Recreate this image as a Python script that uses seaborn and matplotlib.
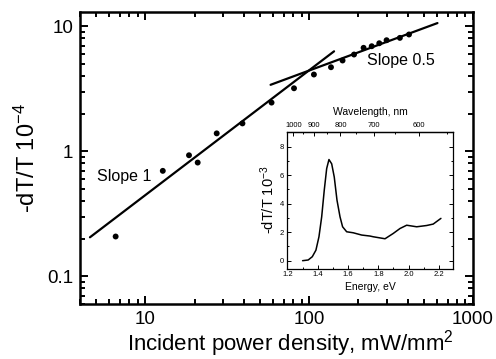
import matplotlib
matplotlib.use("Agg")
import matplotlib.pyplot as plt
import numpy as np
import pandas as pd
import seaborn as sns
from matplotlib.ticker import FixedLocator, MultipleLocator, NullFormatter

# ── main panel: power dependence ───────────────────────────────────────────
power = [6.6, 12.8, 18.5, 20.9, 27.3, 39.2, 59.0, 80.9, 107, 136, 160, 188,
         215, 241, 268, 297, 358, 407]
signal = [0.208, 0.697, 0.929, 0.812, 1.39, 1.67, 2.45, 3.19, 4.11, 4.70, 5.32,
          5.94, 6.72, 6.92, 7.31, 7.73, 8.07, 8.59]

slope1_x = [4.6, 142]
slope1_y = [0.205, 6.3]
slope05_x = [58.2, 607]
slope05_y = [3.40, 10.6]

# ── inset: spectrum ────────────────────────────────────────────────────────
energy = [1.300, 1.337, 1.364, 1.388, 1.408, 1.426, 1.443, 1.459, 1.474, 1.492,
          1.509, 1.527, 1.547, 1.564, 1.591, 1.634, 1.690, 1.745, 1.766, 1.844,
          1.898, 1.943, 1.987, 2.053, 2.119, 2.162, 2.213]
spectrum = [0.0, 0.05, 0.28, 0.74, 1.68, 3.08, 4.95, 6.47, 7.1, 6.8,
            5.87, 4.25, 3.08, 2.38, 2.03, 1.96, 1.8, 1.73, 1.68, 1.54,
            1.91, 2.26, 2.49, 2.38, 2.47, 2.57, 2.97]
wavelength_ticks = [1000, 900, 800, 700, 600]

sns.set_theme(style="ticks")
plt.rcParams["font.family"] = ["Liberation Sans", "DejaVu Sans"]
plt.rcParams["mathtext.default"] = "regular"
plt.rcParams["axes.linewidth"] = 1.8
for key in ("axes.edgecolor", "xtick.color", "ytick.color", "text.color",
            "axes.labelcolor"):
    plt.rcParams[key] = "black"

fig = plt.figure(figsize=(4.96, 3.59), dpi=100)
ax = fig.add_axes([0.1613, 0.1532, 0.7923, 0.8134])

df = pd.DataFrame({"power": power, "signal": signal})
sns.scatterplot(data=df, x="power", y="signal", color="black", s=18,
                edgecolor="none", ax=ax, zorder=3)
sns.lineplot(x=slope1_x, y=slope1_y, color="black", lw=1.6, ax=ax)
sns.lineplot(x=slope05_x, y=slope05_y, color="black", lw=1.6, ax=ax)

ax.set_xscale("log")
ax.set_yscale("log")
ax.set_xlim(4, 1000)
ax.set_ylim(0.06, 13)
ax.xaxis.set_major_locator(FixedLocator([10, 100, 1000]))
ax.set_xticklabels(["10", "100", "1000"])
ax.yaxis.set_major_locator(FixedLocator([0.1, 1, 10]))
ax.set_yticklabels(["0.1", "1", "10"])
ax.xaxis.set_minor_formatter(NullFormatter())
ax.yaxis.set_minor_formatter(NullFormatter())
ax.tick_params(which="both", direction="in", top=True, right=True, width=1.4,
               labelsize=13.5, pad=5)
ax.tick_params(which="major", length=6)
ax.tick_params(which="minor", length=3.5)
ax.set_xlabel("Incident power density, mW/mm$^{2}$", fontsize=16)
ax.xaxis.set_label_coords(0.535, -0.082)
ax.set_ylabel("-dT/T 10$^{-4}$", fontsize=17, labelpad=5)

ax.text(5.1, 0.63, "Slope 1", fontsize=11.5, va="center", ha="left")
ax.text(226, 5.3, "Slope 0.5", fontsize=11.5, va="center", ha="left")

# ── inset ──────────────────────────────────────────────────────────────────
axi = fig.add_axes([0.578, 0.252, 0.336, 0.381])
sns.lineplot(x=energy, y=spectrum, sort=False, color="black", lw=1.1, ax=axi)
axi.set_xlim(1.195, 2.295)
axi.set_ylim(-0.55, 9.05)
axi.xaxis.set_major_locator(MultipleLocator(0.2))
axi.xaxis.set_minor_locator(MultipleLocator(0.1))
axi.yaxis.set_major_locator(MultipleLocator(2))
axi.yaxis.set_minor_locator(MultipleLocator(1))
axi.xaxis.set_major_formatter(plt.FuncFormatter(lambda v, p: f"{v:.1f}"))
for s in axi.spines.values():
    s.set_linewidth(0.9)
axi.tick_params(which="both", direction="in", right=True, width=0.7, labelsize=5.5, pad=2)
axi.tick_params(which="major", length=3)
axi.tick_params(which="minor", length=1.5)
axi.set_xlabel("Energy, eV", fontsize=7.5, labelpad=3)
axi.set_ylabel("-dT/T 10$^{-3}$", fontsize=10.5, labelpad=2)

sec = axi.secondary_xaxis("top", functions=(lambda e: 1239.84 / np.asarray(e, float),
                                             lambda w: 1239.84 / np.asarray(w, float)))
sec.xaxis.set_major_locator(FixedLocator(wavelength_ticks))
sec.xaxis.set_minor_locator(FixedLocator([950, 850, 750, 650, 550]))
sec.xaxis.set_major_formatter(plt.FuncFormatter(lambda v, p: f"{v:.0f}"))
sec.tick_params(which="both", direction="in", width=0.7, labelsize=5.5, pad=2)
sec.tick_params(which="major", length=3)
sec.tick_params(which="minor", length=1.5)
sec.spines["top"].set_linewidth(0.9)
sec.set_xlabel("Wavelength, nm", fontsize=7.5, labelpad=5)

fig.savefig("out.png", dpi=100)
